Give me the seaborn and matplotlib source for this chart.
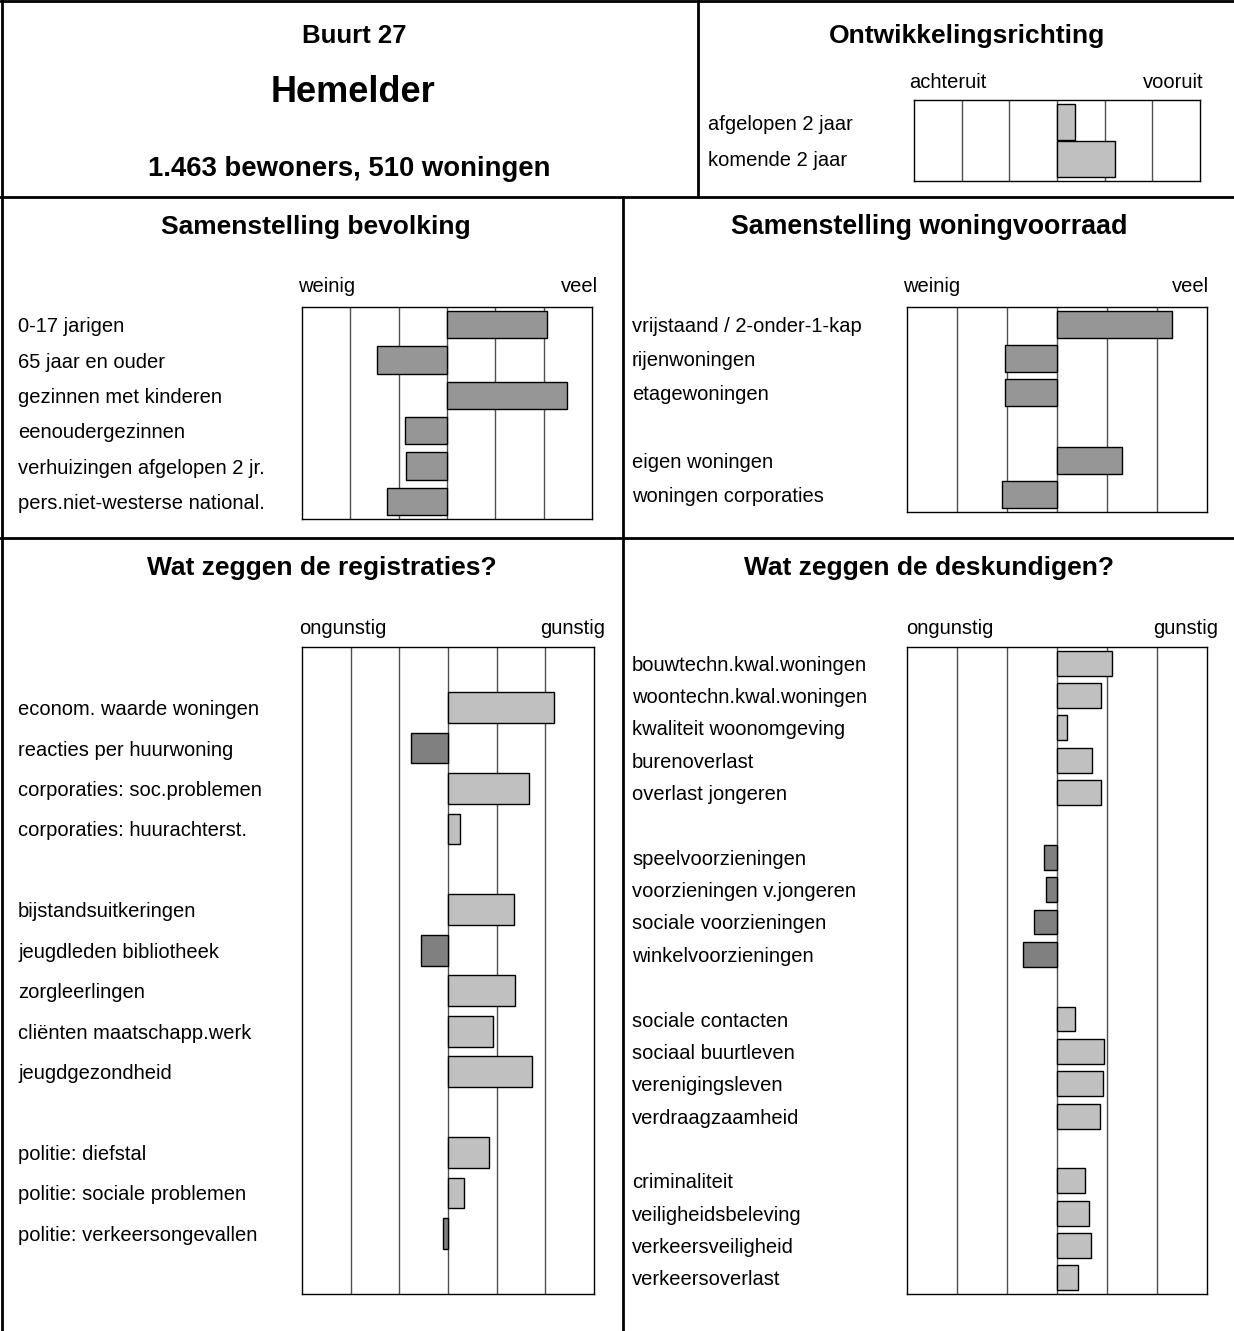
import numpy as np
import pandas as pd
import seaborn as sns
import matplotlib
matplotlib.use('Agg')
import matplotlib.pyplot as plt
from matplotlib.lines import Line2D
from matplotlib import transforms

# Data (units = columns of the grid, 0 = average)
ontw_labels = ['afgelopen 2 jaar', 'komende 2 jaar']
ontw_values = [0.38, 1.21]

bev_labels = ['0-17 jarigen', '65 jaar en ouder', 'gezinnen met kinderen',
              'eenoudergezinnen', 'verhuizingen afgelopen 2 jr.',
              'pers.niet-westerse national.']
bev_values = [2.06, -1.44, 2.48, -0.87, -0.84, -1.25]

won_labels = ['vrijstaand / 2-onder-1-kap', 'rijenwoningen', 'etagewoningen', None,
              'eigen woningen', 'woningen corporaties']
won_values = [2.29, -1.04, -1.05, None, 1.30, -1.11]

reg_labels = [None, 'econom. waarde woningen', 'reacties per huurwoning',
              'corporaties: soc.problemen', 'corporaties: huurachterst.', None,
              'bijstandsuitkeringen', 'jeugdleden bibliotheek', 'zorgleerlingen',
              'cliënten maatschapp.werk', 'jeugdgezondheid', None,
              'politie: diefstal', 'politie: sociale problemen',
              'politie: verkeersongevallen', None]
reg_values = [None, 2.17, -0.76, 1.66, 0.24, None, 1.35, -0.55, 1.37, 0.92, 1.73,
              None, 0.85, 0.32, -0.10, None]

desk_labels = ['bouwtechn.kwal.woningen', 'woontechn.kwal.woningen',
               'kwaliteit woonomgeving', 'burenoverlast', 'overlast jongeren', None,
               'speelvoorzieningen', 'voorzieningen v.jongeren', 'sociale voorzieningen',
               'winkelvoorzieningen', None, 'sociale contacten', 'sociaal buurtleven',
               'verenigingsleven', 'verdraagzaamheid', None, 'criminaliteit',
               'veiligheidsbeleving', 'verkeersveiligheid', 'verkeersoverlast']
desk_values = [1.09, 0.87, 0.20, 0.70, 0.88, None, -0.27, -0.22, -0.47, -0.69, None,
               0.35, 0.93, 0.92, 0.85, None, 0.55, 0.64, 0.68, 0.42]

sns.set_style('white')
plt.rcParams['font.family'] = ['Liberation Sans', 'DejaVu Sans']
plt.rcParams['text.color'] = 'black'

W, H = 1234, 1331
fig = plt.figure(figsize=(W / 100, H / 100), dpi=100)
LABEL_FS = 14.5


def px_axes(x0, y0, x1, y1):
    return fig.add_axes([x0 / W, 1 - y1 / H, (x1 - x0) / W, (y1 - y0) / H])


def hline(y, x0, x1):
    fig.add_artist(Line2D([x0 / W, x1 / W], [1 - y / H, 1 - y / H],
                          transform=fig.transFigure, color='black', lw=2))


def vline(x, y0, y1):
    fig.add_artist(Line2D([x / W, x / W], [1 - y0 / H, 1 - y1 / H],
                          transform=fig.transFigure, color='black', lw=2))


def ftext(x, y, s, **kw):
    fig.text(x / W, 1 - y / H, s, **kw)


def panel(box, labels, values, pos_col, neg_col, bar_h, label_x, words, word_x, pad=0.5):
    ax = px_axes(*box)
    rows = [(i, lab, val) for i, (lab, val) in enumerate(zip(labels, values)) if lab is not None]
    df = pd.DataFrame(rows, columns=['slot', 'label', 'value'])
    df['kleur'] = np.where(df['value'] >= 0, 'pos', 'neg')
    for v in [-2, -1, 0, 1, 2]:
        ax.axvline(v, color='#505050', lw=1, zorder=0)
    sns.barplot(data=df, x='value', y='slot', hue='kleur',
                palette={'pos': pos_col, 'neg': neg_col}, orient='h',
                native_scale=True, width=bar_h, dodge=False, errorbar=None,
                edgecolor='black', linewidth=1, legend=False, ax=ax)
    ax.set_xlim(-3, 3)
    ax.set_ylim(len(labels) - 1 + pad, -pad)
    ax.set_xticks([])
    ax.set_yticks([])
    ax.set_xlabel('')
    ax.set_ylabel('')
    for sp in ax.spines.values():
        sp.set_color('black')
        sp.set_linewidth(1)
    trans = transforms.blended_transform_factory(fig.transFigure, ax.transData)
    for _, r in df.iterrows():
        ax.text(label_x / W, r['slot'], r['label'], transform=trans,
                ha='left', va='center_baseline', fontsize=LABEL_FS)
    ftext(word_x[0], word_x[2], words[0], ha='left', va='center_baseline', fontsize=LABEL_FS)
    ftext(word_x[1], word_x[2], words[1], ha='right', va='center_baseline', fontsize=LABEL_FS)
    return ax


# frame
hline(1, 0, W)
vline(2, 0, H)
hline(197, 0, W)
vline(698, 0, 197)
hline(538, 0, W)
vline(623, 197, H)

# header texts
ftext(354, 36, 'Buurt 27', ha='center', va='center', fontsize=18.5, fontweight='bold')
ftext(353, 92, 'Hemelder', ha='center', va='center', fontsize=26, fontweight='bold')
ftext(349, 169, '1.463 bewoners, 510 woningen', ha='center', va='center',
      fontsize=19.8, fontweight='bold')
ftext(967, 36, 'Ontwikkelingsrichting', ha='center', va='center', fontsize=19, fontweight='bold')
ftext(316, 227, 'Samenstelling bevolking', ha='center', va='center', fontsize=19, fontweight='bold')
ftext(929, 227, 'Samenstelling woningvoorraad', ha='center', va='center',
      fontsize=19.3, fontweight='bold')
ftext(322, 568, 'Wat zeggen de registraties?', ha='center', va='center',
      fontsize=19, fontweight='bold')
ftext(929, 568, 'Wat zeggen de deskundigen?', ha='center', va='center',
      fontsize=19, fontweight='bold')

panel((914, 100, 1200, 181), ontw_labels, ontw_values, '#c0c0c0', '#808080', 1.0,
      708, ('achteruit', 'vooruit'), (909, 1204, 81), pad=0.6)
panel((302, 307, 592, 519), bev_labels, bev_values, '#969696', '#969696', 0.77,
      18, ('weinig', 'veel'), (298, 598, 285))
panel((907, 307, 1207, 512), won_labels, won_values, '#969696', '#969696', 0.79,
      632, ('weinig', 'veel'), (903, 1209, 285))
panel((302, 647, 594, 1294), reg_labels, reg_values, '#c0c0c0', '#808080', 0.76,
      18, ('ongunstig', 'gunstig'), (299, 605, 627))
panel((907, 647, 1207, 1294), desk_labels, desk_values, '#c0c0c0', '#808080', 0.77,
      632, ('ongunstig', 'gunstig'), (906, 1218, 627))

fig.savefig('out.png', dpi=100)
